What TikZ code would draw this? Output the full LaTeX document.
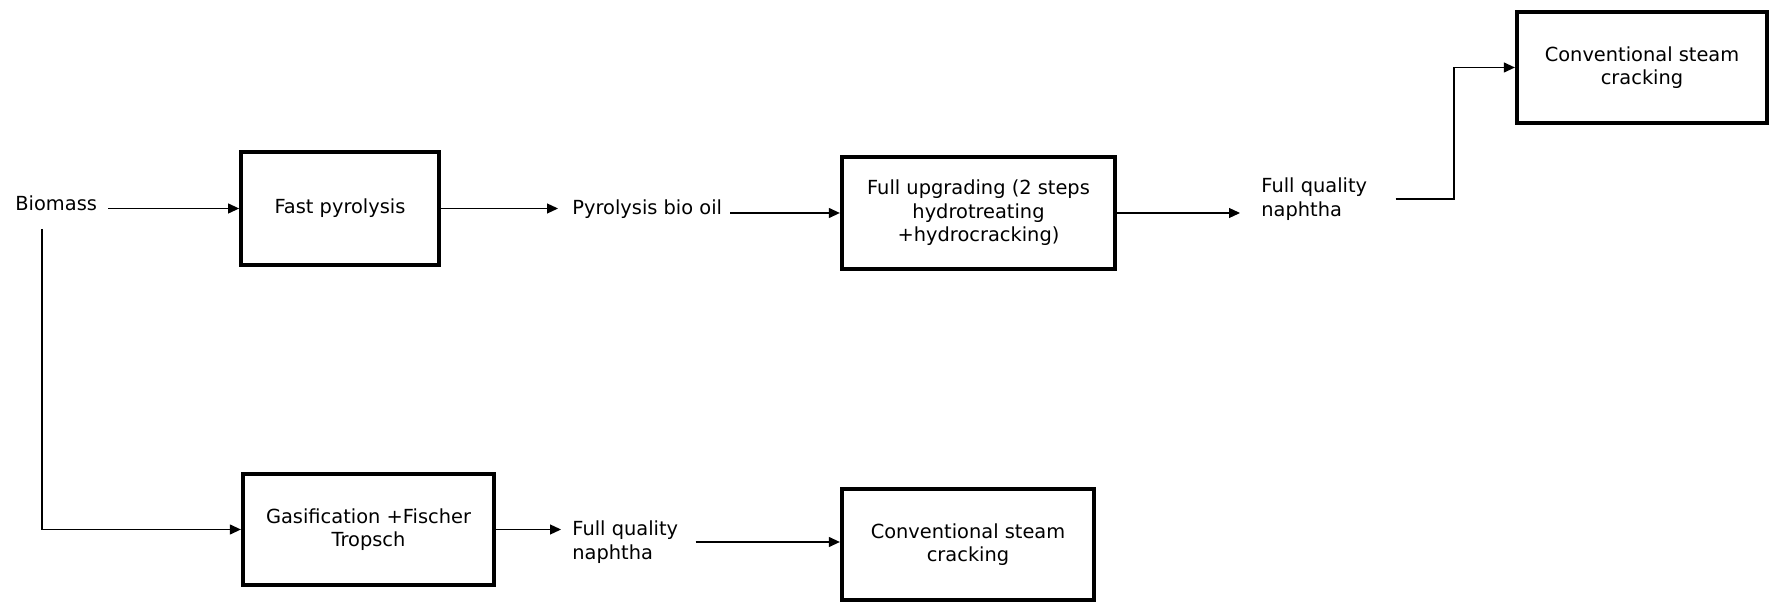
\documentclass[tikz,border=0pt]{standalone}
\usepackage{fontspec}
\setmainfont{DejaVu Sans}
\usetikzlibrary{arrows.meta}
\begin{document}
\begin{tikzpicture}[x=0.5pt,y=-0.5pt,
  every node/.style={font=\fontsize{9.7}{11.8}\selectfont},
  procbox/.style={draw,line width=1.9pt,align=center,inner sep=0pt},
  lbl/.style={anchor=west,align=left,inner sep=0pt},
  arr/.style={line width=0.6pt,-{Triangle[length=5.5pt,width=5pt]}},
  plain/.style={line width=0.6pt}]
  \useasboundingbox (0,0) rectangle (1771,603);

  % process boxes
  \node[procbox,minimum width=99pt,minimum height=56.75pt] (fp) at (340,208.5) {\raisebox{-1pt}{Fast pyrolysis}};
  \node[procbox,minimum width=136.75pt,minimum height=56.25pt] (fu) at (978.5,213) {Full upgrading (2 steps\\hydrotreating\\+hydrocracking)};
  \node[procbox,minimum width=125.25pt,minimum height=55.75pt] (cs1) at (1642,67.5) {Conventional steam\\cracking};
  \node[procbox,minimum width=125.75pt,minimum height=55.75pt] (gas) at (368.5,529.5) {Gasification +Fischer\\Tropsch};
  \node[procbox,minimum width=126.25pt,minimum height=55.75pt] (cs2) at (968,544.5) {Conventional steam\\cracking};

  % stream labels
  \node[lbl] (bio) at (15,203) {Biomass};
  \node[lbl] (pbo) at (572,209) {Pyrolysis bio oil};
  \node[lbl] (fq1) at (1261,199) {Full quality\\naphtha};
  \node[lbl] (fq2) at (572,542) {Full quality\\naphtha};

  % bend points
  \coordinate (split) at (42,229);
  \coordinate (rise) at (1454,0);

  % upper route
  \draw[arr] ([xshift=5.5pt]bio.east |- fp.west) -- (fp.west);
  \draw[arr] (fp.east) -- ([xshift=-7pt]pbo.west |- fp.east);
  \draw[arr] ([xshift=4pt]pbo.east |- fu.west) -- (fu.west);
  \draw[arr] (fu.east) -- ([xshift=-10.5pt]fq1.west |- fu.east);
  \draw[arr] ([xshift=14pt]fq1.east) -| (rise |- cs1.west) -- (cs1.west);

  % lower route
  \draw[arr] (split) |- (gas.west);
  \draw[arr] (gas.east) -- ([xshift=-5.5pt]fq2.west |- gas.east);
  \draw[arr] ([xshift=8.5pt]fq2.east) -- (cs2.west |- fq2.east);
\end{tikzpicture}
\end{document}
